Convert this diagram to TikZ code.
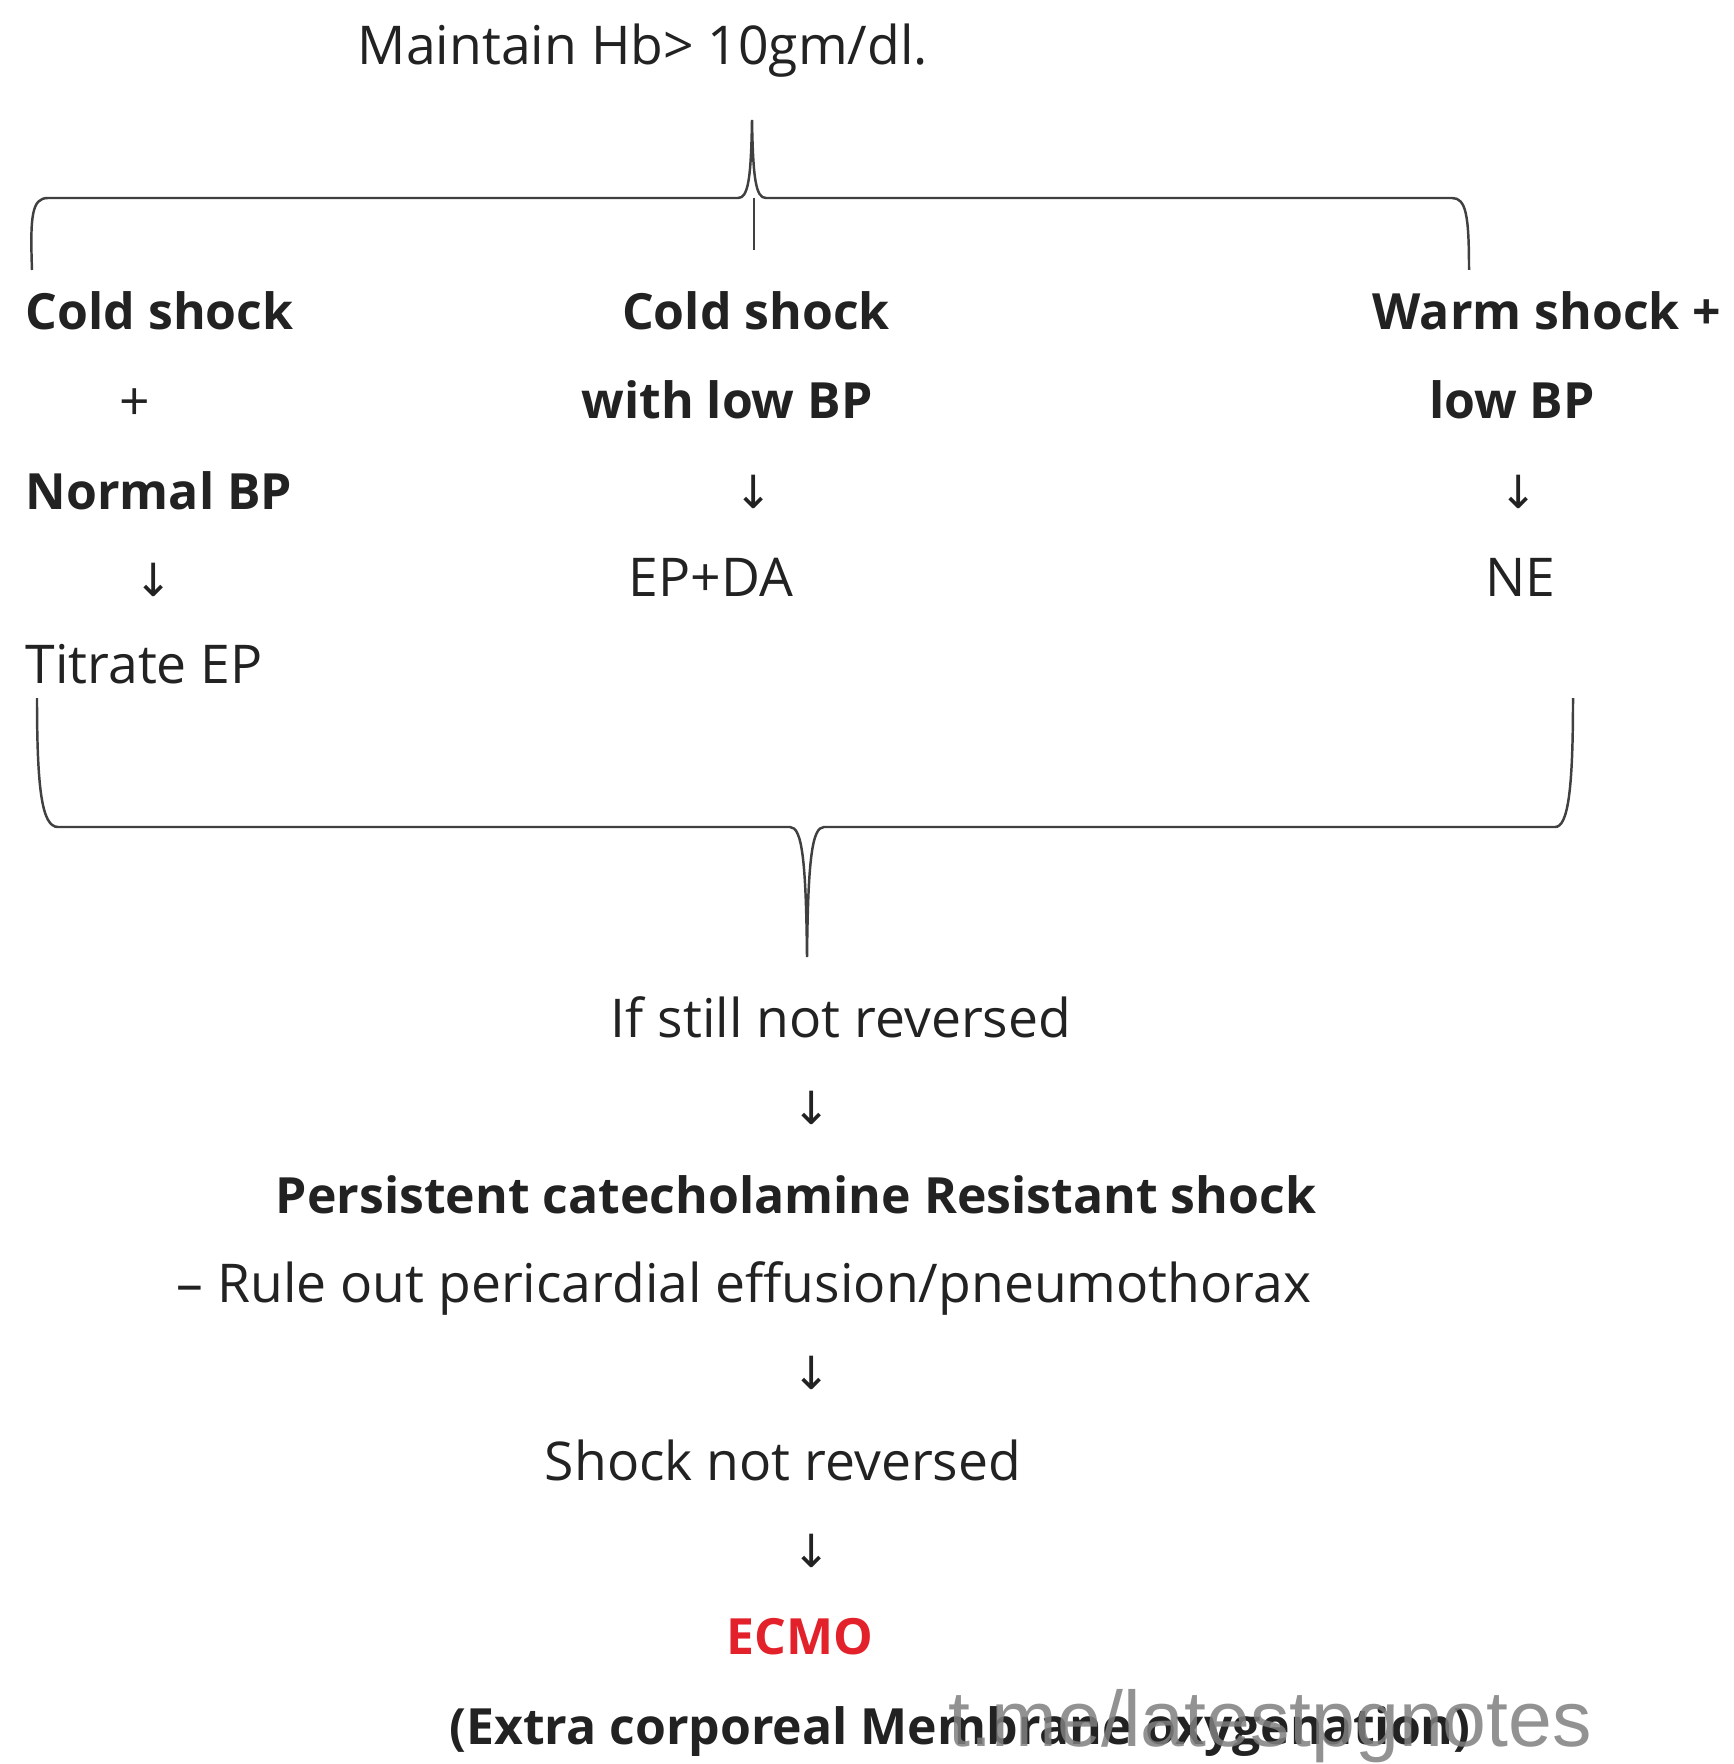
\documentclass[tikz,border=0pt]{standalone}
\usepackage{fontspec}
\setmainfont{Open Sans}
\newfontfamily\arrowfont{DejaVu Sans}
\newfontfamily\markfont{Liberation Sans}
\definecolor{ecmored}{HTML}{E3212B}
\definecolor{ink}{HTML}{222222}
\begin{document}
\begin{tikzpicture}[x=0.01cm, y=-0.01cm,
    txt/.style={inner sep=0pt, anchor=base, text=ink, font=\fontsize{15.2}{18}\selectfont},
    head/.style={txt, font=\fontsize{14.2}{16}\selectfont\bfseries},
    down/.style={inner sep=0pt, text=ink, font=\arrowfont\fontsize{13}{15}\selectfont},
    brace/.style={draw=black!75, line width=0.7pt},
]
\useasboundingbox[fill=white] (0,0) rectangle (1734,1764);

% top
\node[txt] (hb) at (643,65) {Maintain Hb> 10gm/dl.};

% left branch
\node[head, anchor=base west] (cold1) at (25,330) {Cold shock};
\node[txt] (plus) at (135,420) {+};
\node[head, anchor=base west] (normal) at (25,509) {Normal BP};
\node[down] (d1) at (154,580) {↓};
\node[txt, anchor=base west] (titrate) at (25,683) {Titrate EP};

% middle branch
\node[head] (cold2) at (756,330) {Cold shock};
\node[head] (lowbp2) at (727,419) {with low BP};
\node[down] (d2) at (754,492) {↓};
\node[txt] (epda) at (711,596) {EP+DA};

% right branch
\node[head] (warm) at (1547,330) {Warm shock +};
\node[head] (lowbp3) at (1512,419) {low BP};
\node[down] (d3) at (1519,492) {↓};
\node[txt] (ne) at (1520,596) {NE};

% brace ends
\coordinate (tl) at (32,270);
\coordinate (tt) at (752,120);
\coordinate (tr) at (1469,270);
\coordinate (bl) at (37,698);
\coordinate (bt) at (807,957);
\coordinate (br) at (1573,698);

\draw[brace] (tl) .. controls (30,215) and (32,198) .. (48,198) -- (738,198)
    .. controls (748,198) and (751,180) .. (tt)
    .. controls (753,180) and (756,198) .. (766,198) -- (1452,198)
    .. controls (1466,198) and (1469,215) .. (tr);
\draw[brace] (754,198) -- (754,250);
\draw[brace] (bl) .. controls (37,790) and (42,827) .. (58,827) -- (790,827)
    .. controls (802,827) and (806,860) .. (bt)
    .. controls (808,860) and (812,827) .. (824,827) -- (1555,827)
    .. controls (1568,827) and (1573,790) .. (br);

% lower chain
\node[txt] (still) at (841,1037) {If still not reversed};
\node[down] (d4) at (812,1108) {↓};
\node[head] (pcrs) at (796,1213) {Persistent catecholamine Resistant shock};
\node[txt] (rule) at (744,1302) {– Rule out pericardial effusion/pneumothorax};
\node[down] (d5) at (812,1373) {↓};
\node[txt] (notrev) at (783,1480) {Shock not reversed};
\node[down] (d6) at (812,1551) {↓};
\node[head, text=ecmored] (ecmo) at (800,1654) {ECMO};
\node[head] (extra) at (960,1744) {(Extra corporeal Membrane oxygenation)};

\node[inner sep=0pt, anchor=base, text=gray, text opacity=0.85,
      font=\markfont\fontsize{22.4}{24}\selectfont] (mark) at (1270,1746) {t.me/latestpgnotes};
\end{tikzpicture}
\end{document}
